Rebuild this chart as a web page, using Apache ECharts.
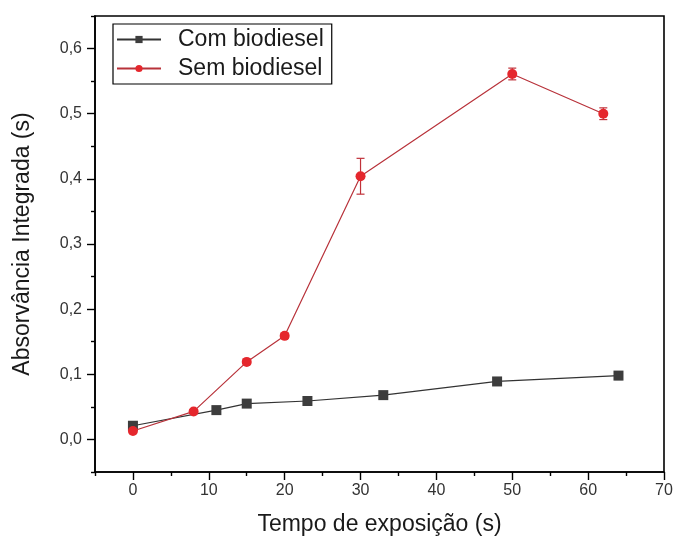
<!DOCTYPE html>
<html>
<head>
<meta charset="utf-8">
<script src="https://cdn.jsdelivr.net/npm/echarts@6/dist/echarts.min.js"></script>
<style>
  html, body { margin: 0; padding: 0; background: #fff; }
  #chart { width: 676px; height: 546px; }
</style>
</head>
<body>
<div id="chart"></div>
<script>
// dados
var comX = [0, 11, 15, 23, 33, 48, 64];
var comY = [0.021, 0.045, 0.055, 0.059, 0.068, 0.089, 0.098];
var comErr = [0.003, 0.003, 0.003, 0.003, 0.003, 0.004, 0.006];

var semX = [0, 8, 15, 20, 30, 50, 62];
var semY = [0.013, 0.043, 0.119, 0.159, 0.404, 0.561, 0.500];
var semErr = [0.003, 0.003, 0.004, 0.004, 0.0275, 0.009, 0.009];

var xTicks = [0, 10, 20, 30, 40, 50, 60, 70];
var xMinor = [-5, 5, 15, 25, 35, 45, 55, 65];
var yTicks = [0.0, 0.1, 0.2, 0.3, 0.4, 0.5, 0.6];
var yMinor = [-0.05, 0.05, 0.15, 0.25, 0.35, 0.45, 0.55, 0.65];

function pairs(xs, ys) {
  return xs.map(function (x, i) { return [x, ys[i]]; });
}
function errData(xs, ys, es) {
  return xs.map(function (x, i) { return [x, ys[i] - es[i], ys[i] + es[i]]; });
}
function errorBar(color) {
  return function (params, api) {
    var x = api.value(0);
    var lo = api.coord([x, api.value(1)]);
    var hi = api.coord([x, api.value(2)]);
    var w = 4;
    var st = { stroke: color, lineWidth: 1.2 };
    return {
      type: 'group',
      children: [
        { type: 'line', shape: { x1: lo[0], y1: lo[1], x2: hi[0], y2: hi[1] }, style: st },
        { type: 'line', shape: { x1: lo[0] - w, y1: lo[1], x2: lo[0] + w, y2: lo[1] }, style: st },
        { type: 'line', shape: { x1: hi[0] - w, y1: hi[1], x2: hi[0] + w, y2: hi[1] }, style: st }
      ]
    };
  };
}

// eixo extra: apaga a ponta externa dos ticks menores (ficam mais curtos)
function trimAxis(min, max, step, values, pos) {
  return {
    type: 'value', min: min, max: max, interval: step, position: pos, offset: 4, z: 10,
    axisLine: { show: false, onZero: false },
    axisTick: { show: true, customValues: values, inside: false, length: 5, lineStyle: { color: '#fff', width: 3 } },
    axisLabel: { show: false },
    splitLine: { show: false }
  };
}

var myChart = echarts.init(document.getElementById('chart'));
var font = 'Liberation Sans, Arial, sans-serif';
var nameStyle = { fontSize: 23, color: '#1a1a1a', fontFamily: font };
var lineSt = { color: '#000', width: 1.6 };
var tickSt = { color: '#000', width: 1.4 };

var option = {
  backgroundColor: '#fff',
  animation: false,
  textStyle: { fontFamily: font },
  grid: {
    left: 95, right: 12, top: 16, bottom: 74,
    show: true, borderColor: '#000', borderWidth: 1.6, backgroundColor: 'transparent'
  },
  legend: {
    left: 113, top: 24,
    orient: 'vertical',
    data: ['Com biodiesel', 'Sem biodiesel'],
    itemWidth: 44, itemHeight: 9, itemGap: 6,
    padding: [4, 8, 4, 3],
    borderColor: '#000', borderWidth: 1.2,
    textStyle: { fontSize: 23, color: '#1a1a1a', fontFamily: font, padding: [0, 0, 0, 12] }
  },
  xAxis: [{
    type: 'value', min: -5, max: 70, interval: 5,
    name: 'Tempo de exposição (s)', nameLocation: 'middle', nameGap: 41,
    nameTextStyle: nameStyle,
    axisLine: { onZero: false, lineStyle: lineSt },
    axisTick: { show: true, inside: false, length: 8, lineStyle: tickSt },
    axisLabel: {
      fontSize: 16, color: '#333', margin: 11,
      formatter: function (v) {
        var r = Math.round(v);
        return (Math.abs(v - r) < 1e-6 && xTicks.indexOf(r) >= 0) ? String(r) : '';
      }
    },
    splitLine: { show: false }
  },
    trimAxis(-5, 70, 5, xMinor, 'bottom')
  ],
  yAxis: [{
    type: 'value', min: -0.05, max: 0.65, interval: 0.05,
    name: 'Absorvância Integrada (s)', nameLocation: 'middle', nameGap: 61, nameRotate: 90,
    nameTextStyle: nameStyle,
    axisLine: { onZero: false, lineStyle: lineSt },
    axisTick: { show: true, inside: false, length: 8, lineStyle: tickSt },
    axisLabel: {
      fontSize: 16, color: '#333', margin: 13,
      formatter: function (v) {
        for (var i = 0; i < yTicks.length; i++) {
          if (Math.abs(yTicks[i] - v) < 1e-6) return yTicks[i].toFixed(1).replace('.', ',');
        }
        return '';
      }
    },
    splitLine: { show: false }
  },
    trimAxis(-0.05, 0.65, 0.05, yMinor, 'left')
  ],
  series: [
    {
      name: 'Com biodiesel', type: 'line',
      data: pairs(comX, comY),
      symbol: 'rect', symbolSize: 10,
      itemStyle: { color: '#3d3d3d' },
      lineStyle: { color: '#333', width: 1.2 },
      z: 3
    },
    {
      name: 'Sem biodiesel', type: 'line',
      data: pairs(semX, semY),
      symbol: 'circle', symbolSize: 10,
      itemStyle: { color: '#e5272d' },
      lineStyle: { color: '#b8323a', width: 1.2 },
      z: 4
    },
    {
      name: 'err1', type: 'custom',
      data: errData(comX, comY, comErr),
      renderItem: errorBar('#333'),
      encode: { x: 0, y: [1, 2] },
      z: 2, silent: true
    },
    {
      name: 'err2', type: 'custom',
      data: errData(semX, semY, semErr),
      renderItem: errorBar('#c0323a'),
      encode: { x: 0, y: [1, 2] },
      z: 2, silent: true
    }
  ]
};
myChart.setOption(option);
</script>
</body>
</html>
